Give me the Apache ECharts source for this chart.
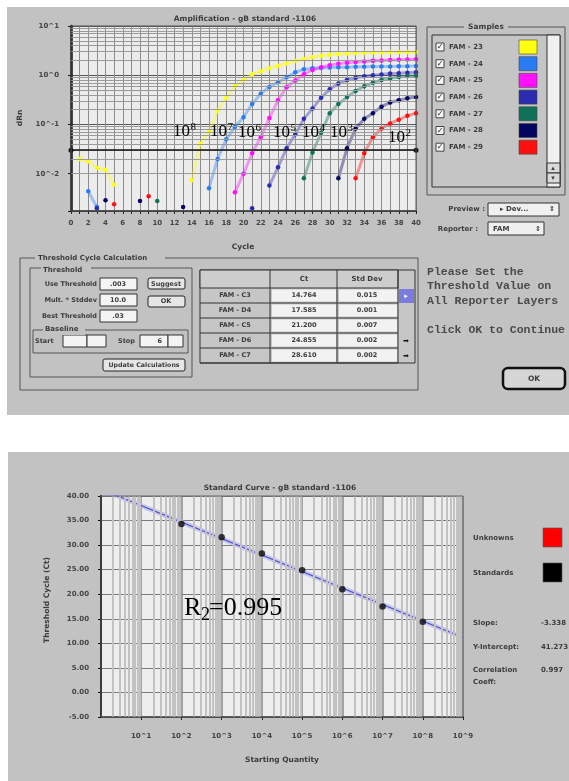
<!DOCTYPE html>
<html><head><meta charset="utf-8">
<script src="https://cdn.jsdelivr.net/npm/echarts@6/dist/echarts.min.js"></script>
<style>html,body{margin:0;padding:0;background:#fff}#c{width:569px;height:781px}</style>
</head><body><div id="c"></div>
<script>
const _ = null;
// ---------- Amplification plot data (dRn per cycle, log axis) ----------
const cycles = [0,1,2,3,4,5,6,7,8,9,10,11,12,13,14,15,16,17,18,19,20,21,22,23,24,25,26,27,28,29,30,31,32,33,34,35,36,37,38,39,40];
const sampleNames = ['FAM - 23','FAM - 24','FAM - 25','FAM - 26','FAM - 27','FAM - 28','FAM - 29'];
const sampleColors = ['#ffff10','#2a7cf5','#ff10ff','#2c2cb0','#10705a','#050560','#ff1010'];
const sampleExp = ['8','7','6','5','4','3','2'];
const rn_1e8 = [_,0.020,0.018,0.013,0.012,0.006,_,_,_,_,_,_,_,_,0.0074,0.040,0.072,0.19,0.35,0.60,0.80,1.05,1.20,1.38,1.55,1.74,1.95,2.14,2.34,2.50,2.60,2.70,2.78,2.82,2.85,2.88,2.90,2.92,2.95,2.97,2.98];
const rn_1e7 = [_,_,0.0044,0.0021,_,_,_,_,_,_,_,_,_,_,_,_,0.0051,0.020,0.050,0.089,0.14,0.26,0.42,0.58,0.72,0.91,1.15,1.32,1.38,1.41,1.43,1.45,1.46,1.48,1.49,1.50,1.50,1.51,1.52,1.53,1.54];
const rn_1e6 = [_,_,_,_,_,_,_,_,_,_,_,_,_,_,_,_,_,_,_,0.0042,0.010,0.026,0.055,0.135,0.31,0.57,0.78,1.05,1.28,1.45,1.60,1.72,1.80,1.86,1.91,1.96,2.00,2.04,2.07,2.10,2.12];
const rn_1e5 = [_,_,_,0.0020,_,_,_,_,_,_,_,_,_,_,_,_,_,_,_,_,_,0.0020,_,0.0058,0.0135,0.033,0.063,0.13,0.21,0.35,0.52,0.68,0.80,0.89,0.95,1.00,1.04,1.08,1.10,1.13,1.15];
const rn_1e4 = [_,_,_,_,_,_,_,_,_,_,0.0028,_,_,_,_,_,_,_,_,_,_,_,_,_,_,_,_,0.0081,0.027,0.068,0.17,0.26,0.36,0.48,0.60,0.70,0.80,0.87,0.92,0.96,0.98];
const rn_1e3 = [_,_,_,_,0.0029,_,_,_,0.0028,_,_,_,_,0.0021,_,_,_,_,_,_,_,_,_,_,_,_,_,_,_,_,_,0.0081,0.033,0.083,0.13,0.17,0.23,0.28,0.31,0.34,0.36];
const rn_1e2 = [_,_,_,_,_,0.0024,_,_,_,0.0035,_,_,_,_,_,_,_,_,_,_,_,_,_,_,_,_,_,_,_,_,_,_,_,0.0081,0.026,0.055,0.083,0.105,0.125,0.15,0.17];
const sampleData = [rn_1e8,rn_1e7,rn_1e6,rn_1e5,rn_1e4,rn_1e3,rn_1e2];
const thresholdValue = 0.031;
// ---------- Ct table ----------
const tableWells = ['FAM - C3','FAM - D4','FAM - C5','FAM - D6','FAM - C7'];
const tableCt = ['14.764','17.585','21.200','24.855','28.610'];
const tableStd = ['0.015','0.001','0.007','0.002','0.002'];
// ---------- Standard curve data ----------
const stdQuantity = [1e2,1e3,1e4,1e5,1e6,1e7,1e8];
const stdCt = [34.3,31.6,28.3,24.9,21.0,17.5,14.4];
const fitQuantity = [1,1e9];
const fitCt = [41.4,11.2];
const slopeText = '-3.338', interceptText = '41.273', corrText = '0.997';

const FONT = 'DejaVu Sans';
const g = [];
function R(x,y,w,h,fill,stroke,lw,z,r){g.push({type:'rect',silent:true,z:(z==null?50:z),shape:{x:x,y:y,width:w,height:h,r:r||0},style:{fill:fill||'none',stroke:stroke||'none',lineWidth:lw||1}});}
function T(x,y,text,size,o){o=o||{};g.push({type:'text',silent:true,z:o.z||60,x:x,y:y,rotation:o.rot||0,style:{text:text,fill:o.color||'#3c3c3c',font:(o.weight||'bold')+' '+size+'px "'+(o.family||FONT)+'"',align:o.align||'left',verticalAlign:o.valign||'middle',textAlign:o.align||'left',textVerticalAlign:o.valign||'middle'}});}
function L(x1,y1,x2,y2,stroke,lw,z){g.push({type:'line',silent:true,z:z||55,shape:{x1:x1,y1:y1,x2:x2,y2:y2},style:{stroke:stroke,lineWidth:lw||1}});}
const PANEL = '#c2c2c2';
// panels
R(7,7,562,408,PANEL,null,0,-20);
R(8,452,561,329,PANEL,null,0,-20);
R(71,26,345,185,'#ececec',null,0,-15);
R(101,496,362,221,'#eeeeee',null,0,-15);
// ---------- top chart texts ----------
T(245,19,'Amplification - gB standard -1106',7.5,{align:'center'});
T(20,118,'dRn',7.5,{rot:Math.PI/2,align:'center'});
T(243,247,'Cycle',7.5,{align:'center'});
R(71,26,345,185,null,'#555',1,40);
// samples box
R(427,27,138,168,null,'#555',1);
R(464,22,44,10,PANEL,null,0,52);
T(486,27,'Samples',7.5,{align:'center'});
R(432,35,128,152,'#c5c5c5','#333',1);
R(547,35,13,152,'#f0f0f0','#333',1);
R(547,163,13,10,'#dadada','#333',1);
R(547,173,13,10,'#dadada','#333',1);
T(553,168,'▴',7,{align:'center',weight:'normal'});
T(553,178,'▾',7,{align:'center',weight:'normal'});
sampleNames.forEach(function(n,i){
  const cy = 47 + i*16.7;
  R(436,cy-4,8,8,'#f4f4f4','#444',1);
  T(440,cy,'✓',8,{align:'center',color:'#222'});
  T(449,cy,n,7);
  R(519,cy-7,18,14,sampleColors[i],'#444',0.6);
});
// preview / reporter
T(485,209,'Preview :',7,{align:'right'});
R(488,203,71,13,'#f0f0f0','#333',1);
T(500,209,'▸ Dev...',7);
T(552,209,'⇕',7,{align:'center'});
T(478,229,'Reporter :',7,{align:'right'});
R(488,222,56,13,'#f0f0f0','#333',1);
T(493,229,'FAM',7);
T(538,229,'⇕',7,{align:'center'});
// threshold cycle calculation
R(20,258,398,132,null,'#555',1);
R(35,253,130,10,PANEL,null,0,52);
T(38,258,'Threshold Cycle Calculation',7);
R(30,268,162,109,null,'#555',1);
R(41,265,50,10,PANEL,null,0,52);
T(43,270,'Threshold',7);
const rowLabels = ['Use Threshold','Mult. * Stddev','Best Threshold'];
const rowValues = ['.003','10.0','.03'];
rowLabels.forEach(function(l,i){
  const cy = 284 + i*16;
  T(97,cy,l,6.5,{align:'right'});
  R(100,cy-6,37,12,'#f4f4f4','#333',1);
  T(118,cy,rowValues[i],6.5,{align:'center'});
});
R(148,278,37,11,'#e6e6e6','#222',1,50,2);
T(166,284,'Suggest',6.5,{align:'center'});
R(148,296,37,11,'#e6e6e6','#222',1,50,2);
T(166,301,'OK',6.5,{align:'center'});
R(33,330,155,23,null,'#555',1);
R(43,325,42,10,PANEL,null,0,52);
T(45,329,'Baseline',7);
T(35,341,'Start',6.5);
R(63,335,24,12,'#f4f4f4','#333',1);
R(87,335,19,12,'#f4f4f4','#333',1);
T(118,341,'Stop',6.5);
R(140,335,28,12,'#f4f4f4','#333',1);
R(168,335,15,12,'#f4f4f4','#333',1);
T(162,341,'6',6.5,{align:'right'});
R(103,359,82,12,'#e6e6e6','#222',1,50,2);
T(144,365,'Update Calculations',6.3,{align:'center'});
// table
R(200,270,215,93,'#c6c6c6','#333',1);
R(200,270,198,18,'#cdcdcd','#333',1);
T(304,279,'Ct',7,{align:'center'});
T(367,279,'Std Dev',7,{align:'center'});
L(270,270,270,363,'#333',1);
L(337,270,337,363,'#333',1);
L(398,270,398,363,'#333',1);
tableWells.forEach(function(w,i){
  const y0 = 288 + i*15;
  R(272,y0+1.5,64,12,'#f2f2f2',null,0);
  R(339,y0+1.5,58,12,'#f2f2f2',null,0);
  L(200,y0+15,398,y0+15,'#333',1);
  T(235,y0+7.5,w,6.5,{align:'center'});
  T(304,y0+7.5,tableCt[i],6.5,{align:'center'});
  T(367,y0+7.5,tableStd[i],6.5,{align:'center'});
});
R(399,289,15,14,'#7c7cdc',null,0);
T(406,296,'▸',7,{align:'center',color:'#fff'});
T(406,341,'➡',7,{align:'center',color:'#111',weight:'normal'});
T(406,356,'➡',7,{align:'center',color:'#111',weight:'normal'});
// message
const msg = [['Please Set the',272],['Threshold Value on',286],['All Reporter Layers',301],['Click OK to Continue',330]];
msg.forEach(function(m){T(427,m[1],m[0],11.5,{family:'Liberation Mono',color:'#4a4a4a'});});
R(503,368,62,21,'#d6d6d6','#111',2.5,50,5);
T(534,379,'OK',7.5,{align:'center'});
// ---------- overlay serif labels ----------
const expPos = [[173,137],[210,137],[238,138],[273,138],[302,138],[330,138],[388,143]];
sampleExp.forEach(function(e,i){
  const p = expPos[i];
  T(p[0],p[1]-5.6,'10',17,{family:'Liberation Serif',weight:'normal',color:'#000',z:100});
  T(p[0]+17.5,p[1]-10,e,11,{family:'Liberation Serif',weight:'normal',color:'#000',z:100});
});
// ---------- bottom chart texts ----------
T(280,488,'Standard Curve - gB standard -1106',7.5,{align:'center'});
T(47,600,'Threshold Cycle (Ct)',7.5,{rot:Math.PI/2,align:'center'});
T(282,760,'Starting Quantity',7.5,{align:'center'});
R(101,496,362,221,null,'#666',1,40);
T(473,538,'Unknowns',7);
R(543,528,19,19,'#ff0000','#555',0.6);
T(473,573,'Standards',7);
R(543,563,19,19,'#000000','#555',0.6);
T(473,623,'Slope:',7);
T(541,623,slopeText,7);
T(473,647,'Y-Intercept:',7);
T(541,647,interceptText,7);
T(473,670,'Correlation',7);
T(473,682,'Coeff:',7);
T(541,670,corrText,7);
T(184,608,'R',26,{family:'Liberation Serif',weight:'normal',color:'#000',z:100});
T(201,615,'2',18,{family:'Liberation Serif',weight:'normal',color:'#000',z:100});
T(209,608,'=0.995',26,{family:'Liberation Serif',weight:'normal',color:'#000',z:100});

// minor grid positions
const topDecades = [0.001,0.01,0.1,1];
const bottomDecades = [1,10,100,1e3,1e4,1e5,1e6,1e7,1e8];
const mult = [2,3,4,5,6,7,8,9];
const topMinor = [], bottomMinor = [];
topDecades.forEach(function(d){mult.forEach(function(m){const v=+(d*m).toPrecision(3); if(v>0.00175) topMinor.push({yAxis:v});});});
bottomDecades.forEach(function(d){mult.forEach(function(m){bottomMinor.push({xAxis:d*m});});});

function pow10Fmt(v){const e=Math.round(Math.log10(v)); return Math.abs(Math.log10(v)-e)<1e-6 ? '10^'+e : '';}
const lab = {fontFamily:FONT,fontWeight:'bold',fontSize:7,color:'#444'};

const series = [];
series.push({type:'line',xAxisIndex:0,yAxisIndex:0,data:[],silent:true,z:1,
  markLine:{silent:true,symbol:'none',animation:false,label:{show:false},lineStyle:{color:'#9a9a9a',width:1,type:'solid'},data:topMinor}});
sampleData.forEach(function(arr,i){
  series.push({type:'line',name:sampleNames[i],xAxisIndex:0,yAxisIndex:0,
    data:cycles.map(function(c,k){return [c, arr[k]==null?'-':arr[k]];}),
    symbol:'circle',symbolSize:4.5,showAllSymbol:true,connectNulls:false,
    itemStyle:{color:sampleColors[i]},lineStyle:{color:sampleColors[i],width:3,opacity:0.4},z:3});
});
series.push({type:'line',xAxisIndex:0,yAxisIndex:0,data:[],silent:true,z:4,
  markLine:{silent:true,symbol:['circle','circle'],symbolSize:5,animation:false,label:{show:false},lineStyle:{color:'#111',width:1.5,type:'solid'},data:[{yAxis:thresholdValue}]}});
series.push({type:'line',xAxisIndex:1,yAxisIndex:1,data:[],silent:true,z:1,
  markLine:{silent:true,symbol:'none',animation:false,label:{show:false},lineStyle:{color:'#c2c2c2',width:2,type:'solid'},data:bottomMinor}});
series.push({type:'line',xAxisIndex:1,yAxisIndex:1,data:fitQuantity.map(function(q,i){return [q,fitCt[i]];}),
  symbol:'none',lineStyle:{color:'#b9b9f2',width:5,opacity:0.7},z:3,silent:true});
series.push({type:'line',xAxisIndex:1,yAxisIndex:1,data:fitQuantity.map(function(q,i){return [q,fitCt[i]];}),
  symbol:'none',lineStyle:{color:'#4f4fc8',width:1.2},z:4,silent:true});
series.push({type:'scatter',xAxisIndex:1,yAxisIndex:1,data:stdQuantity.map(function(q,i){return [q,stdCt[i]];}),
  symbolSize:6.5,itemStyle:{color:'#0a0a0a'},z:5});

const option = {
  animation:false,
  backgroundColor:'#ffffff',
  grid:[{left:71,top:26,width:345,height:185},{left:101,top:496,width:362,height:221}],
  xAxis:[
    {gridIndex:0,type:'value',min:0,max:40,interval:2,
     axisLine:{onZero:false,lineStyle:{color:'#222',width:1.5}},
     axisTick:{show:true,length:3,lineStyle:{color:'#222'}},
     minorTick:{show:true,splitNumber:2,length:3,lineStyle:{color:'#222'}},
     axisLabel:Object.assign({margin:9},lab),
     splitLine:{show:true,lineStyle:{color:'#8c8c8c',width:1}},
     minorSplitLine:{show:true,lineStyle:{color:'#8c8c8c',width:1}}},
    {gridIndex:1,type:'log',logBase:10,min:1,max:1e9,splitNumber:9,
     axisLine:{onZero:false,lineStyle:{color:'#222',width:1.5}},
     axisTick:{show:true,length:3,lineStyle:{color:'#222'}},
     axisLabel:Object.assign({margin:16,showMinLabel:false,formatter:pow10Fmt},lab),
     splitLine:{show:true,lineStyle:{color:'#8a8a8a',width:1.5}}}
  ],
  yAxis:[
    {gridIndex:0,type:'log',logBase:10,min:0.00175,max:10,
     axisLine:{onZero:false,lineStyle:{color:'#111',width:2.5}},
     axisTick:{show:true,length:3,lineStyle:{color:'#111'}},
     axisLabel:Object.assign({margin:12,formatter:pow10Fmt},lab),
     splitLine:{show:true,lineStyle:{color:'#555',width:1.2}}},
    {gridIndex:1,type:'value',min:-5,max:40,interval:5,
     axisLine:{onZero:false,lineStyle:{color:'#111',width:2}},
     axisTick:{show:true,length:3,lineStyle:{color:'#111'}},
     axisLabel:Object.assign({margin:12,formatter:function(v){return v.toFixed(2);}},lab),
     splitLine:{show:true,lineStyle:{color:'#7a7a7a',width:1}}}
  ],
  graphic:{elements:g},
  series:series
};
const chart = echarts.init(document.getElementById('c'),null,{renderer:'canvas',width:569,height:781});
chart.setOption(option);
</script></body></html>
